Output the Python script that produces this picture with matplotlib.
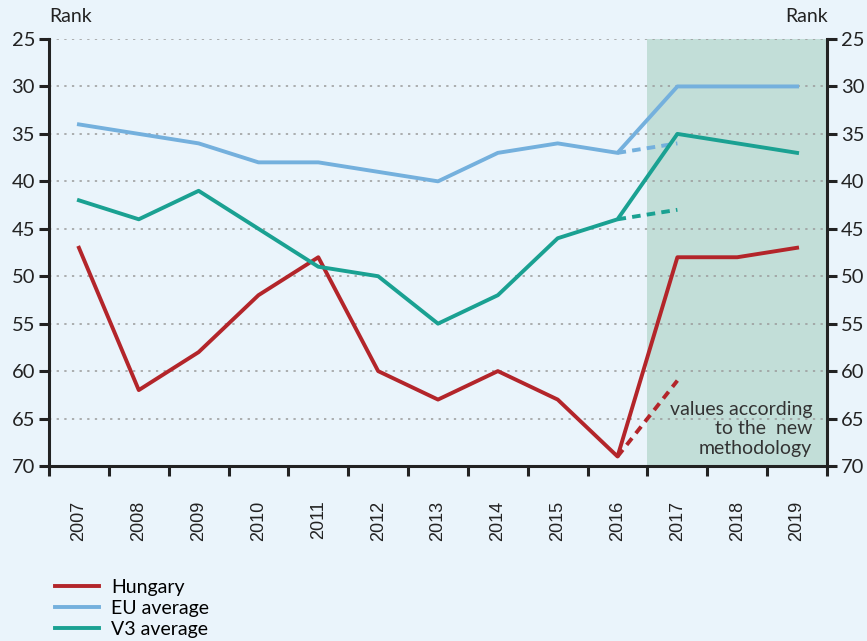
import matplotlib
matplotlib.use("Agg")
import matplotlib.pyplot as plt
import numpy as np

years = ["2007", "2008", "2009", "2010", "2011", "2012", "2013",
         "2014", "2015", "2016", "2017", "2018", "2019"]
hungary = [47, 62, 58, 52, 48, 60, 63, 60, 63, 69, 48, 48, 47]
eu_avg = [34, 35, 36, 38, 38, 39, 40, 37, 36, 37, 30, 30, 30]
v3_avg = [42, 44, 41, 45, 49, 50, 55, 52, 46, 44, 35, 36, 37]
# old-methodology continuation 2016 -> 2017
hungary_old = [69, 61]
eu_old = [37, 36]
v3_old = [44, 43]
y_ticks = [25, 30, 35, 40, 45, 50, 55, 60, 65, 70]

bg = "#EAF4FB"
c_hun = "#B3252A"
c_eu = "#74B0DD"
c_v3 = "#1AA192"
shade = "#C2DED8"
tc = "#222222"
fam = "Lato"

fig = plt.figure(figsize=(8.67, 6.41), dpi=100, facecolor=bg)
ax = fig.add_axes([49/867, 1-466/641, (827-49)/867, (466-39)/641])
ax.set_facecolor(bg)

x = np.arange(len(years))
ax.axvspan(9.5, 12.5, color=shade, zorder=0, lw=0)

for yv in y_ticks[:-1]:
    ax.axhline(yv, color="#9A9A9A", lw=1.1, ls=(0, (1.5, 3.5)), zorder=1)

lw = 2.8
ax.plot(x[9:11], eu_old, color=c_eu, lw=lw, ls=(0, (2.2, 1.6)), zorder=3)
ax.plot(x[9:11], v3_old, color=c_v3, lw=lw, ls=(0, (2.2, 1.6)), zorder=3)
ax.plot(x[9:11], hungary_old, color=c_hun, lw=lw, ls=(0, (2.2, 1.6)), zorder=3)
l1, = ax.plot(x, hungary, color=c_hun, lw=lw, zorder=4, label="Hungary")
l2, = ax.plot(x, eu_avg, color=c_eu, lw=lw, zorder=4, label="EU average")
l3, = ax.plot(x, v3_avg, color=c_v3, lw=lw, zorder=4, label="V3 average")

ax.set_xlim(-0.5, 12.5)
ax.set_ylim(70, 25)
ax.set_yticks(y_ticks)
ax.set_yticklabels([str(v) for v in y_ticks], fontsize=14.5, family=fam, color=tc)
ax.tick_params(axis="y", which="major", direction="out", length=7, width=2.2,
               left=True, right=True, labelleft=True, labelright=True, pad=3, color=tc)

ax.set_xticks(x)
ax.set_xticklabels(years, rotation=90, fontsize=13, family="Liberation Sans", color=tc)
ax.tick_params(axis="x", which="major", length=0, pad=25)
ax.set_xticks(np.arange(-0.5, 13, 1), minor=True)
ax.tick_params(axis="x", which="minor", direction="out", length=7, width=2.2, color=tc)

for s in ["left", "right", "bottom"]:
    ax.spines[s].set_linewidth(2.2)
    ax.spines[s].set_color(tc)
ax.spines["top"].set_visible(False)

fig.text(49/867, 1-17/641, "Rank", ha="left", va="center", fontsize=14, family=fam, color=tc)
fig.text(828/867, 1-17/641, "Rank", ha="right", va="center", fontsize=14, family=fam, color=tc)

ax.text(12.25, 69.0, "values according\nto the  new\nmethodology", ha="right", va="bottom",
        fontsize=14, family=fam, color="#333333", linespacing=1.15, zorder=5)

fig.legend(handles=[l1, l2, l3], loc="upper left", bbox_to_anchor=(45/867, 1-569/641),
           frameon=False, prop={"family": fam, "size": 14},
           handlelength=2.3, handletextpad=0.6, labelspacing=0.2, borderpad=0)

fig.savefig("out.png", dpi=100, facecolor=bg)
